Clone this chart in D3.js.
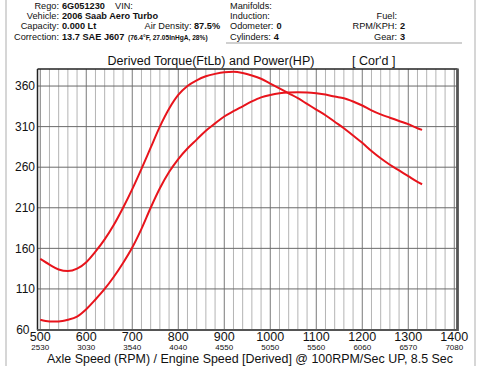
<!DOCTYPE html>
<html>
<head>
<meta charset="utf-8">
<script src="https://cdn.jsdelivr.net/npm/d3@7"></script>
<style>
  body { margin: 0; background: #fff; }
  text { font-family: "Liberation Sans", Arial, sans-serif; fill: #111; }
</style>
</head>
<body>
<script>
// axle speed samples (RPM) shared by both curves
const axleRpm = [500, 520, 540, 560, 580, 600, 620, 640, 660, 680, 700, 720, 740, 760, 780, 800,
  820, 840, 860, 880, 900, 920, 940, 960, 980, 1000, 1020, 1040, 1060, 1080, 1100, 1120,
  1140, 1160, 1180, 1200, 1220, 1240, 1260, 1280, 1300, 1320, 1330];
const torque = [147, 140, 134, 132, 135, 143, 156, 171, 189, 210, 233, 258, 284, 310, 332, 349,
  360, 367, 372, 375, 377, 377.5, 376, 373, 369, 363, 357, 351, 345, 338, 331, 324,
  316, 308, 299, 290, 280, 271, 263, 256, 249, 242, 239];
const power = [72, 70, 70, 72, 76, 85, 97, 110, 125, 142, 161, 184, 210, 234, 254, 270,
  283, 294, 305, 314, 322.5, 329, 335, 341, 346, 349, 351, 352, 352.3, 352, 351, 349.5,
  347, 345, 341, 336, 330, 325, 321, 317, 313, 308, 306];

const axleTicks = [500, 600, 700, 800, 900, 1000, 1100, 1200, 1300, 1400];
const engineTicks = ["2530", "3030", "3540", "4040", "4550", "5050", "5560", "6060", "6570", "7080"];
const yTicks = [60, 110, 160, 210, 260, 310, 360];

// header info
const leftInfo = [["Rego:", "6G051230"], ["Vehicle:", "2006 Saab Aero Turbo"], ["Capacity:", "0.000 Lt"], ["Correction:", "13.7 SAE J607"]];
const midInfo = [["Manifolds:", ""], ["Induction:", ""], ["Odometer:", "0"], ["Cylinders:", "4"]];
const rightInfo = [["Fuel:", ""], ["RPM/KPH:", "2"], ["Gear:", "3"]];

const w = 488;
const h = 366;

const svg = d3.select("body").append("svg").attr("width", w).attr("height", h);

// outer frame lines
svg.append("line").attr("x1", 6).attr("x2", 6).attr("y1", 0).attr("y2", h)
  .attr("stroke", "#c8c8c8").attr("stroke-width", 1.5);
svg.append("line").attr("x1", 475).attr("x2", 475).attr("y1", 0).attr("y2", h)
  .attr("stroke", "#c8c8c8").attr("stroke-width", 1.5);
svg.append("line").attr("x1", 226).attr("x2", 462).attr("y1", 43).attr("y2", 43)
  .attr("stroke", "#c0c0c0").attr("stroke-width", 1.5);

// header rows
const rowY = [8.5, 18.8, 29.2, 39.5];
const fs = 9.2;
leftInfo.forEach((d, i) => {
  svg.append("text").attr("x", 59).attr("y", rowY[i]).attr("text-anchor", "end")
    .style("font-size", fs + "px").text(d[0]);
  svg.append("text").attr("x", 62).attr("y", rowY[i]).style("font-size", fs + "px")
    .style("font-weight", "bold").text(d[1]);
});
svg.append("text").attr("x", 115).attr("y", rowY[0]).style("font-size", fs + "px").text("VIN:");
svg.append("text").attr("x", 191.5).attr("y", rowY[2]).attr("text-anchor", "end")
  .style("font-size", fs + "px").text("Air Density:");
svg.append("text").attr("x", 194).attr("y", rowY[2]).style("font-size", fs + "px")
  .style("font-weight", "bold").text("87.5%");
svg.append("text").attr("x", 128).attr("y", rowY[3]).style("font-size", "6.6px")
  .style("font-weight", "bold").text("(76.4°F, 27.05InHgA, 28%)");

midInfo.forEach((d, i) => {
  const t = svg.append("text").attr("x", 230).attr("y", rowY[i]).style("font-size", fs + "px");
  t.append("tspan").text(d[0]);
  t.append("tspan").attr("dx", 3).style("font-weight", "bold").text(d[1]);
});
rightInfo.forEach((d, i) => {
  svg.append("text").attr("x", 397).attr("y", rowY[i + 1]).attr("text-anchor", "end")
    .style("font-size", fs + "px").text(d[0]);
  svg.append("text").attr("x", 400).attr("y", rowY[i + 1]).style("font-size", fs + "px")
    .style("font-weight", "bold").text(d[1]);
});

// title
svg.append("text").attr("x", 211).attr("y", 64.5).attr("text-anchor", "middle")
  .style("font-size", "12.5px").text("Derived Torque(FtLb) and Power(HP)");
svg.append("text").attr("x", 352).attr("y", 64.5)
  .style("font-size", "12.5px").text("[ Cor'd ]");

// scales
const xScale = d3.scaleLinear().domain([494, 1407]).range([37.5, 457.5]);
const yScale = d3.scaleLinear().domain([60, 381]).range([329.5, 69]);

// grid: minor verticals every 20, major every 100
const grid = svg.append("g");
grid.selectAll(".minor").data(d3.range(520, 1400, 20).filter((v) => v % 100 !== 0)).enter()
  .append("line")
  .attr("x1", (d) => xScale(d)).attr("x2", (d) => xScale(d))
  .attr("y1", yScale.range()[1]).attr("y2", yScale.range()[0])
  .attr("stroke", "#b4b4b4").attr("stroke-width", 1);
grid.selectAll(".major").data(axleTicks).enter().append("line")
  .attr("x1", (d) => xScale(d)).attr("x2", (d) => xScale(d))
  .attr("y1", yScale.range()[1]).attr("y2", yScale.range()[0])
  .attr("stroke", "#7a7a7a").attr("stroke-width", 1);
grid.selectAll(".hline").data(yTicks.slice(1)).enter().append("line")
  .attr("x1", xScale.range()[0]).attr("x2", xScale.range()[1])
  .attr("y1", (d) => yScale(d)).attr("y2", (d) => yScale(d))
  .attr("stroke", "#6a6a6a").attr("stroke-width", 1);

// frame
svg.append("line").attr("x1", 37.5).attr("x2", 457.5).attr("y1", 69).attr("y2", 69)
  .attr("stroke", "#222").attr("stroke-width", 1.5);
svg.append("line").attr("x1", 37.5).attr("x2", 37.5).attr("y1", 69).attr("y2", 330)
  .attr("stroke", "#222").attr("stroke-width", 1.5);
svg.append("line").attr("x1", 457.5).attr("x2", 457.5).attr("y1", 68.5).attr("y2", 331)
  .attr("stroke", "#555").attr("stroke-width", 2.8);
svg.append("line").attr("x1", 37).attr("x2", 458).attr("y1", 330).attr("y2", 330)
  .attr("stroke", "#555").attr("stroke-width", 2);

// y labels (the bottom one tucked left so it clears the "500" below it)
svg.selectAll(".ylab").data(yTicks).enter().append("text")
  .attr("x", (d, i) => (i === 0 ? 29.5 : 35)).attr("y", (d) => yScale(d) + 4.3)
  .attr("text-anchor", "end")
  .style("font-size", "12px").text((d) => d);

// x labels: axle speed above, engine speed below
svg.selectAll(".xlab").data(axleTicks).enter().append("text")
  .attr("x", (d) => xScale(d)).attr("y", 340.6).attr("text-anchor", "middle")
  .style("font-size", "12.5px").text((d) => d);
svg.selectAll(".elab").data(engineTicks).enter().append("text")
  .attr("x", (d, i) => xScale(axleTicks[i])).attr("y", 350.4).attr("text-anchor", "middle")
  .style("font-size", "8px").text((d) => d);

svg.append("text").attr("x", 250).attr("y", 363.2).attr("text-anchor", "middle")
  .attr("textLength", 406).attr("lengthAdjust", "spacingAndGlyphs")
  .style("font-size", "12.6px")
  .text("Axle Speed (RPM) / Engine Speed [Derived] @ 100RPM/Sec UP, 8.5 Sec");

// curves
const line = d3.line()
  .x((d, i) => xScale(axleRpm[i]))
  .y((d) => yScale(d))
  .curve(d3.curveMonotoneX);

[torque, power].forEach((series) => {
  svg.append("path").datum(series).attr("d", line)
    .attr("fill", "none").attr("stroke", "#e8141c").attr("stroke-width", 2);
});
</script>
</body>
</html>
